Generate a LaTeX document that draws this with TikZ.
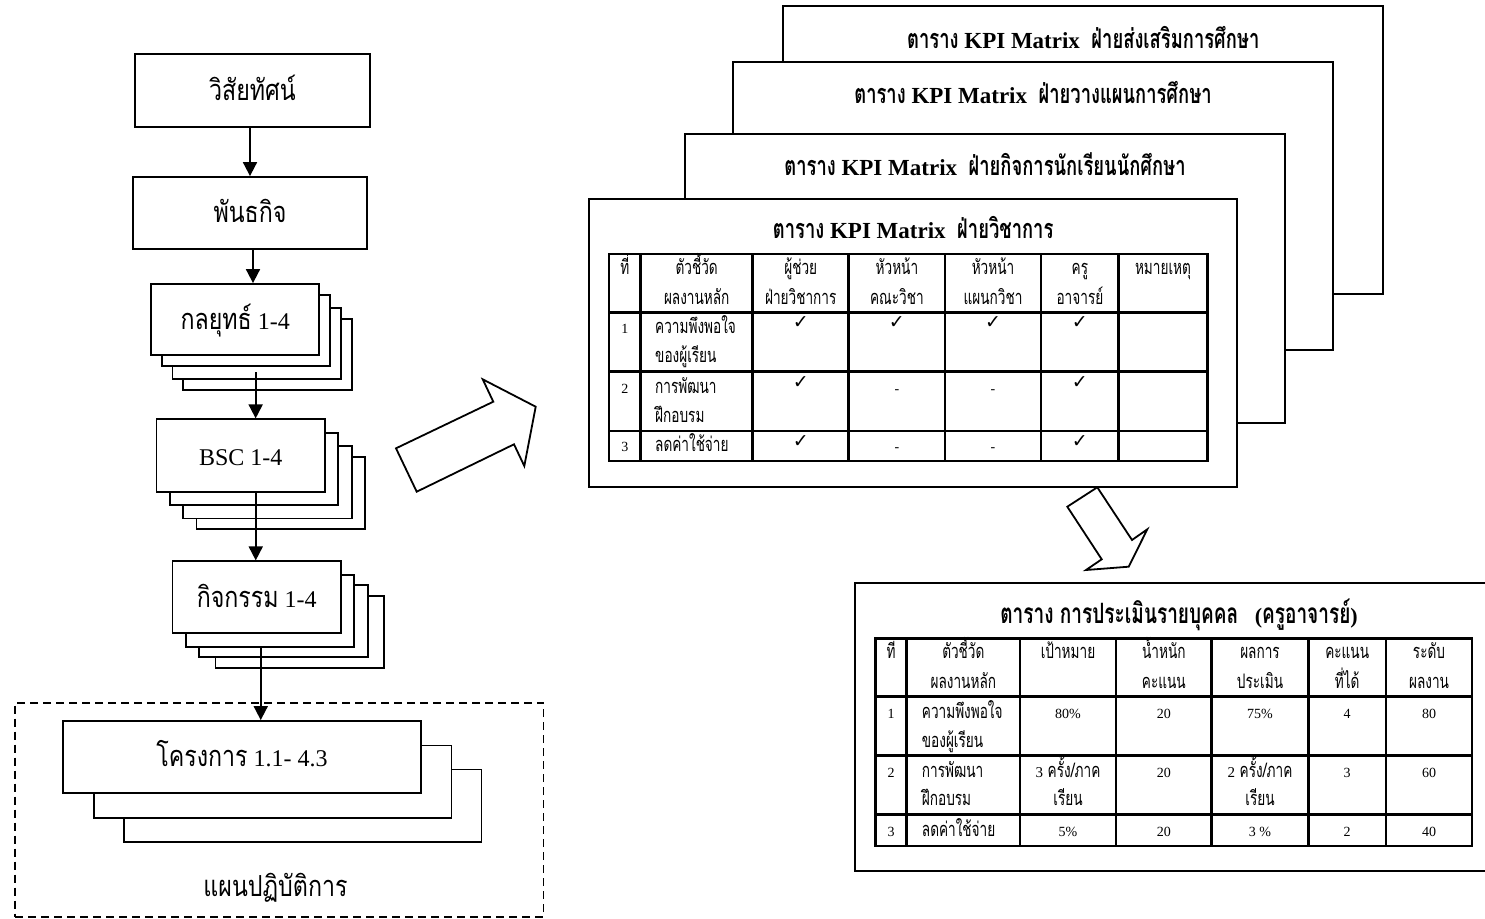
\documentclass[tikz,border=0pt]{standalone}
\usepackage{fontspec}
\setmainfont{Liberation Serif}
\newfontfamily\thaifont[Script=Thai,FakeStretch=0.8]{Loma}
\newfontfamily\thainarrow[Script=Thai,FakeStretch=0.68]{Loma}
\newfontfamily\symfont{DejaVu Sans}
\usetikzlibrary{arrows.meta,calc}
% Thai text at a given size (normal and narrow), Latin text at a given size
\newcommand\thsz[1]{\thaifont\fontsize{#1}{#1}\selectfont}
\newcommand\thnsz[1]{\thainarrow\fontsize{#1}{#1}\selectfont}
\newcommand\lsz[1]{\rmfamily\fontsize{#1}{#1}\selectfont}
\newcommand\tick{{\symfont\fontsize{19}{19}\selectfont ✓}}
\begin{document}
\begin{tikzpicture}[x=1pt,y=-1pt,
  box/.style={draw,line width=1.8pt,fill=white,inner sep=0pt,
    text height=19.5pt,text depth=0pt,font=\lsz{24}},
  layer/.style={draw,line width=1.8pt,fill=white},
  sheet/.style={draw,line width=1.8pt,fill=white,inner sep=0pt},
  grid/.style={line width=2.6pt},
  arr/.style={line width=1.8pt,-{Triangle[width=14pt,length=14pt]}},
  planbox/.style={draw,line width=1.8pt,dash pattern=on 8pt off 5pt,inner sep=0pt},
  blockarrow/.style={draw,line width=1.8pt,fill=white,line join=miter},
  title/.style={anchor=base,inner sep=0pt,font=\lsz{23}\bfseries},
  cellth/.style={anchor=base,inner sep=0pt,font=\thnsz{20}},
  cellnum/.style={anchor=base,inner sep=0pt,font=\lsz{14}},
  celltick/.style={inner sep=0pt}]
\useasboundingbox (0,0) rectangle (1485,918);
\clip (0,0) rectangle (1485,918);

% ---------- left column: from vision down to the action plan ----------
\node[planbox,minimum width=528.5pt,minimum height=214pt] (plan) at (279.25,809.7) {};
\node[anchor=base,inner sep=0pt,font=\thsz{29}] (planlbl) at (275.5,896) {แผนปฏิบัติการ};

\node[box,minimum width=235pt,minimum height=73pt] (V) at (252.5,90.5) {{\thsz{29}วิสัยทัศน์}};
\node[box,minimum width=234pt,minimum height=72pt] (M) at (250,213) {{\thsz{29}พันธกิจ}};

\foreach \dx/\dy in {32.3/35,21.5/24,10.7/11}
  \draw[layer] ($(151,284)+(\dx,\dy)$) rectangle +(168.3,71.3);
\node[box,minimum width=168.3pt,minimum height=71.3pt] (S) at (235.15,319.65) {{\thsz{29}กลยุทธ์} 1-4};

\foreach \dx/\dy in {40/37.5,26.7/26.7,13.3/13.3}
  \draw[layer] ($(156.5,419.3)+(\dx,\dy)$) rectangle +(168.5,72.4);
\node[box,minimum width=168.5pt,minimum height=72.4pt] (B) at (240.75,455.5) {BSC 1-4};

\foreach \dx/\dy in {43/35,26.7/24,13.3/13.4}
  \draw[layer] ($(172.5,561.3)+(\dx,\dy)$) rectangle +(168.5,72);
\node[box,minimum width=168.5pt,minimum height=72pt] (A) at (256.75,597.3) {{\thsz{29}กิจกรรม} 1-4};

\foreach \dx/\dy in {60.7/48.5,30.7/24.5}
  \draw[layer] ($(63.3,721)+(\dx,\dy)$) rectangle +(357.4,72.3);
\node[box,minimum width=357.4pt,minimum height=72.3pt] (P) at (242,757.15) {{\thsz{29}โครงการ} 1.1- 4.3};

\coordinate (a1) at ($(V.south)+(-2.5,0)$);
\coordinate (a2) at ($(M.south)+(3,0)$);
\coordinate (a3) at ($(S.south)+(20.5,16)$);
\coordinate (a4) at ($(B.south)+(15,0)$);
\coordinate (a5) at ($(A.south)+(4,13.4)$);
\draw[arr] (a1) -- (a1 |- M.north);
\draw[arr] (a2) -- (a2 |- S.north);
\draw[arr] (a3) -- (a3 |- B.north);
\draw[arr] (a4) -- (a4 |- A.north);
\draw[arr] (a5) -- (a5 |- P.north);

% ---------- block arrow towards the KPI matrices ----------
\draw[blockarrow] (396,448.3) -- (416.7,491.7) -- (514,444.3) -- (524.3,466)
  -- (535.7,406.7) -- (482.7,379.3) -- (493.3,401.7) -- cycle;

% ---------- stacked KPI matrix sheets ----------
\node[sheet,minimum width=600pt,minimum height=288.3pt] (sh4) at (1083.3,150.15) {};
\node[title] (t4) at (1083.3,48) {{\thnsz{27}ตาราง} KPI Matrix\ \ {\thnsz{27}ฝ่ายส่งเสริมการศึกษา}};
\node[sheet,minimum width=600.6pt,minimum height=288pt] (sh3) at (1033,206) {};
\node[title] (t3) at (1033,103) {{\thnsz{27}ตาราง} KPI Matrix\ \ {\thnsz{27}ฝ่ายวางแผนการศึกษา}};
\node[sheet,minimum width=600pt,minimum height=288.4pt] (sh2) at (985,278.5) {};
\node[title] (t2) at (985,175.5) {{\thnsz{27}ตาราง} KPI Matrix\ \ {\thnsz{27}ฝ่ายกิจการนักเรียนนักศึกษา}};
\node[sheet,minimum width=648.3pt,minimum height=288pt] (sh1) at (913.15,342.7) {};
\node[title] (t1) at (913.15,238) {{\thnsz{27}ตาราง} KPI Matrix\ \ {\thnsz{27}ฝ่ายวิชาการ}};

% front matrix grid
\draw[grid] (609,254) rectangle (1207.3,461);
\foreach \x in {640.7,752.7,848.7,945,1041,1118.7} \draw[grid] (\x,254) -- (\x,461);
\foreach \y in {312.7,371.7,431} \draw[grid] (609,\y) -- (1207.3,\y);

\foreach \x/\y/\t [count=\i] in {
  624.9/274.5/ที่, 696.7/274.5/ตัวชี้วัด, 696.7/304/ผลงานหลัก,
  800.7/274.5/ผู้ช่วย, 800.7/304/ฝ่ายวิชาการ,
  896.9/274.5/หัวหน้า, 896.9/304/คณะวิชา,
  993/274.5/หัวหน้า, 993/304/แผนกวิชา,
  1079.9/274.5/ครู, 1079.9/304/อาจารย์,
  1163/274.5/หมายเหตุ}
  \node[cellth] (kh\i) at (\x,\y) {\t};
\foreach \y/\t [count=\i] in {333/ความพึงพอใจ, 362/ของผู้เรียน,
  393/การพัฒนา, 422/ฝึกอบรม, 451.5/ลดค่าใช้จ่าย}
  \node[cellth,anchor=base west] (kr\i) at (655,\y) {\t};
\foreach \x/\y/\t [count=\i] in {624.9/333/1, 624.9/393/2, 624.9/451.5/3,
  896.9/393/-, 993/393/-, 896.9/451.5/-, 993/451.5/-}
  \node[cellnum] (kn\i) at (\x,\y) {\t};
\foreach \x/\y [count=\i] in {800.7/322.7, 896.9/322.7, 993/322.7, 1079.9/322.7,
  800.7/382.7, 1079.9/382.7, 800.7/441.7, 1079.9/441.7}
  \node[celltick] (kt\i) at (\x,\y) {\tick};

% ---------- arrow down to the individual assessment ----------
\node[sheet,minimum width=645pt,minimum height=288.3pt] (ev) at (1177.5,726.85) {};
\draw[blockarrow] (1067.3,506.7) -- (1097.3,487.3) -- (1132,540) -- (1147.3,529.3)
  -- (1128.7,566.7) -- (1086,570) -- (1101.7,559.3) -- cycle;

% ---------- individual assessment sheet ----------
\node[title,font=\lsz{22}\bfseries] (te) at (1179,623.5)
  {{\thnsz{28}ตาราง การประเมินรายบุคคล}\ \ \ ({\thnsz{28}ครูอาจารย์})};
\draw[grid] (875.7,638.3) rectangle (1472,846);
\foreach \x in {906.7,1020,1116,1211.7,1308.3,1386} \draw[grid] (\x,638.3) -- (\x,846);
\foreach \y in {696.7,755.7,814.3} \draw[grid] (875.7,\y) -- (1472,\y);

\foreach \x/\y/\t [count=\i] in {
  891.2/658.5/ที่, 963.35/658.5/ตัวชี้วัด, 963.35/688/ผลงานหลัก,
  1068/658.5/เป้าหมาย, 1163.85/658.5/น้ำหนัก, 1163.85/688/คะแนน,
  1260/658.5/ผลการ, 1260/688/ประเมิน,
  1347.15/658.5/คะแนน, 1347.15/688/ที่ได้,
  1429/658.5/ระดับ, 1429/688/ผลงาน,
  1068/777/{{\lsz{15}3} ครั้ง/ภาค}, 1068/805.5/เรียน,
  1260/777/{{\lsz{15}2} ครั้ง/ภาค}, 1260/805.5/เรียน}
  \node[cellth] (eh\i) at (\x,\y) {\t};
\foreach \y/\t [count=\i] in {718.5/ความพึงพอใจ, 747/ของผู้เรียน,
  777/การพัฒนา, 805.5/ฝึกอบรม, 836/ลดค่าใช้จ่าย}
  \node[cellth,anchor=base west] (er\i) at (921.7,\y) {\t};
\foreach \x/\y/\t [count=\i] in {
  891.2/718.5/1, 1068/718.5/80\%, 1163.85/718.5/20, 1260/718.5/75\%, 1347.15/718.5/4, 1429/718.5/80,
  891.2/777/2, 1163.85/777/20, 1347.15/777/3, 1429/777/60,
  891.2/836/3, 1068/836/5\%, 1163.85/836/20, 1260/836/3 \%, 1347.15/836/2, 1429/836/40}
  \node[cellnum] (en\i) at (\x,\y) {\t};
\end{tikzpicture}
\end{document}
